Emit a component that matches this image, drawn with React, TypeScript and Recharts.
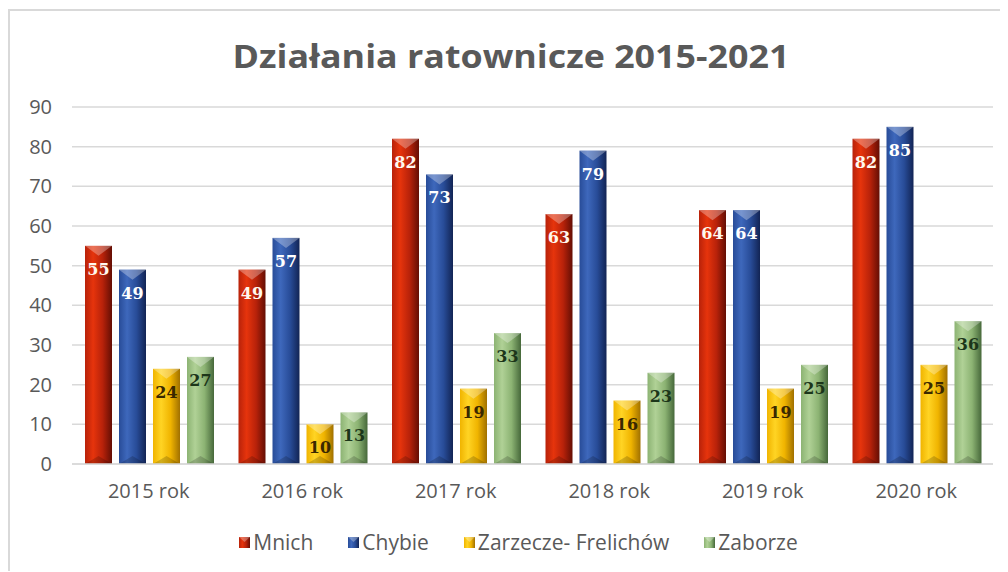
import React from 'react';
import { BarChart, Bar, XAxis, YAxis, CartesianGrid, Legend, LabelList } from 'recharts';

const years = ['2015 rok', '2016 rok', '2017 rok', '2018 rok', '2019 rok', '2020 rok'];
const mnich = [55, 49, 82, 63, 64, 82];
const chybie = [49, 57, 73, 79, 64, 85];
const zarzecze = [24, 10, 19, 16, 19, 25];
const zaborze = [27, 13, 33, 23, 25, 36];
const yTicks = [0, 10, 20, 30, 40, 50, 60, 70, 80, 90];

const SERIES = [
  { key: 'mnich', name: 'Mnich', light: '#e6340c', mid: '#b8220a', dark: '#640e04', text: '#fff8ee' },
  { key: 'chybie', name: 'Chybie', light: '#3e68bc', mid: '#284c98', dark: '#122454', text: '#ffffff' },
  { key: 'zarzecze', name: 'Zarzecze- Frelichów', light: '#ffd424', mid: '#f0b400', dark: '#a07000', text: '#3a2800' },
  { key: 'zaborze', name: 'Zaborze', light: '#b0d196', mid: '#8cb373', dark: '#46683a', text: '#1c361a' },
];

const data = years.map((year, i) => ({
  year,
  mnich: mnich[i],
  chybie: chybie[i],
  zarzecze: zarzecze[i],
  zaborze: zaborze[i],
}));

const FONT = '"Open Sans", sans-serif';
const GRAY = '#595959';

const makeShape = (id: string) => (props: any) => {
  const { x, y, width, height } = props;
  if (!height || height <= 0) return <g />;
  const b = Math.min(10, height / 2);
  return (
    <g>
      <rect x={x} y={y} width={width} height={height} fill={`url(#grad-${id})`} />
      <polygon points={`${x},${y} ${x + width},${y} ${x + width / 2},${y + b}`} fill="#fff" fillOpacity={0.3} />
      <polygon
        points={`${x},${y + height} ${x + width},${y + height} ${x + width / 2},${y + height - b * 0.8}`}
        fill="#000"
        fillOpacity={0.18}
      />
    </g>
  );
};

const makeLabel = (color: string) => (props: any) => {
  const { x, y, width, value } = props;
  return (
    <text
      x={x + width / 2}
      y={y + 29}
      textAnchor="middle"
      fill={color}
      fontFamily='"DejaVu Serif", serif'
      fontWeight="bold"
      fontSize={16}
    >
      {value}
    </text>
  );
};

const LegendContent = () => (
  <div
    style={{
      display: 'flex',
      justifyContent: 'center',
      alignItems: 'center',
      gap: 35,
      paddingLeft: 34,
      fontFamily: FONT,
      fontSize: 21,
      color: GRAY,
      height: 30,
    }}
  >
    {SERIES.map(s => (
      <div key={s.key} style={{ display: 'flex', alignItems: 'center' }}>
        <svg width={11} height={11} style={{ marginRight: 3 }}>
          <rect x={0} y={0} width={11} height={11} fill={`url(#grad-${s.key})`} />
          <polygon points="0,0 11,0 5.5,5" fill="#fff" fillOpacity={0.3} />
        </svg>
        <span>{s.name}</span>
      </div>
    ))}
  </div>
);

export default function App() {
  return (
    <div
      style={{
        position: 'relative',
        top: 1,
        width: 1000,
        height: 563,
        borderTop: '2px solid #d9d9d9',
        borderLeft: '2px solid #d9d9d9',
        boxSizing: 'border-box',
        background: '#fff',
      }}
    >
      <svg width={0} height={0} style={{ position: 'absolute' }}>
        <defs>
          {SERIES.map(s => (
            <linearGradient key={s.key} id={`grad-${s.key}`} x1="0" y1="0" x2="1" y2="0">
              <stop offset="0%" stopColor={s.mid} />
              <stop offset="30%" stopColor={s.light} />
              <stop offset="65%" stopColor={s.mid} />
              <stop offset="100%" stopColor={s.dark} />
            </linearGradient>
          ))}
        </defs>
      </svg>
      <svg width={998} height={80} style={{ position: 'absolute', left: 0, top: 0 }}>
        <text
          x={501}
          y={57}
          textAnchor="middle"
          fontFamily={FONT}
          fontWeight="bold"
          fontSize={32}
          fill={GRAY}
          textLength={557}
          lengthAdjust="spacingAndGlyphs"
        >
          Działania ratownicze 2015-2021
        </text>
      </svg>
      <BarChart
        width={998}
        height={561}
        data={data}
        margin={{ top: 96, right: 15, bottom: 15, left: 0 }}
        barCategoryGap={13}
        barGap={7}
      >
        <CartesianGrid horizontal vertical={false} stroke="#d9d9d9" strokeWidth={1.5} />
        <XAxis
          dataKey="year"
          height={63}
          axisLine={{ stroke: '#d9d9d9', strokeWidth: 1.5 }}
          tickLine={false}
          tickMargin={14}
          tick={{ fill: GRAY, fontSize: 20, fontFamily: FONT }}
        />
        <YAxis
          width={62}
          domain={[0, 90]}
          ticks={yTicks}
          axisLine={false}
          tickLine={false}
          tickMargin={14}
          tick={{ fill: GRAY, fontSize: 20, fontFamily: FONT }}
        />
        <Legend verticalAlign="bottom" height={30} content={LegendContent} />
        {SERIES.map(s => (
          <Bar
            key={s.key}
            dataKey={s.key}
            name={s.name}
            fill={s.mid}
            shape={makeShape(s.key)}
            isAnimationActive={false}
          >
            <LabelList dataKey={s.key} content={makeLabel(s.text)} />
          </Bar>
        ))}
      </BarChart>
    </div>
  );
}
